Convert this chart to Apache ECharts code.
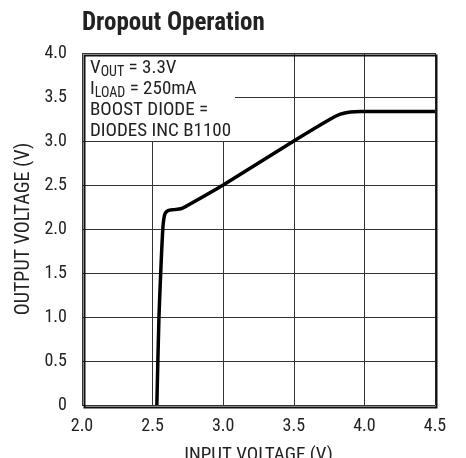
<!DOCTYPE html>
<html><head><meta charset="utf-8">
<script src="https://cdn.jsdelivr.net/npm/echarts@6/dist/echarts.min.js"></script>
<style>html,body{margin:0;padding:0;background:#fff}#c{width:466px;height:458px}</style>
</head><body><div id="c"></div>
<script>
const inputVoltage = [2.53, 2.545, 2.56, 2.572, 2.58, 2.59, 2.61, 2.65, 2.7, 2.75, 3.0, 3.5, 3.76, 3.83, 3.9, 3.97, 4.0, 4.5];
const outputVoltage = [0, 1.0, 1.6, 2.0, 2.12, 2.18, 2.21, 2.22, 2.23, 2.27, 2.5, 3.0, 3.25, 3.305, 3.33, 3.335, 3.335, 3.335];
const xTicks = [2.0, 2.5, 3.0, 3.5, 4.0, 4.5];
const yTicks = [0, 0.5, 1.0, 1.5, 2.0, 2.5, 3.0, 3.5, 4.0];
const FONT = '"Liberation Sans Narrow","Roboto Condensed","Liberation Sans",sans-serif';
const chart = echarts.init(document.getElementById('c'), null, {renderer: 'canvas'});
chart.setOption({
  animation: false,
  title: {text: 'Dropout Operation', left: 77, top: 6, textStyle: {fontFamily: FONT, fontWeight: 'bold', fontSize: 25, color: '#222'}},
  grid: {left: 82, right: 31, top: 53, bottom: 53, containLabel: false, outerBoundsMode: 'none'},
  xAxis: {type: 'value', min: 2.0, max: 4.5, interval: 0.5,
    name: 'INPUT VOLTAGE (V)', nameLocation: 'middle', nameGap: 41,
    nameTextStyle: {fontFamily: FONT, fontSize: 19, color: '#222'},
    axisLine: {show: false}, axisTick: {show: false},
    axisLabel: {fontFamily: FONT, fontSize: 18, color: '#222', margin: 12, formatter: v => v.toFixed(1)},
    splitLine: {show: true, lineStyle: {color: '#333', width: 1}}},
  yAxis: {type: 'value', min: 0, max: 4.0, interval: 0.5,
    name: 'OUTPUT VOLTAGE (V)', nameLocation: 'middle', nameGap: 46, nameRotate: 90,
    nameTextStyle: {fontFamily: FONT, fontSize: 20, color: '#222'},
    axisLine: {show: false}, axisTick: {show: false},
    axisLabel: {fontFamily: FONT, fontSize: 18, color: '#222', margin: 15, formatter: v => v === 0 ? '0' : v.toFixed(1)},
    splitLine: {show: true, lineStyle: {color: '#333', width: 1}}},
  graphic: [
    {type: 'rect', left: 83, top: 54, z: 50, shape: {width: 152, height: 87}, style: {fill: '#fff'}},
    {type: 'rect', left: 82, top: 53, z: 60, shape: {width: 352, height: 352}, style: {fill: 'none', stroke: '#111', lineWidth: 2}},
    {type: 'text', left: 90, top: 58, z: 70, style: {
      text: '{n|V}{s|OUT}{n| = 3.3V}\n{n|I}{s|LOAD}{n| = 250mA}\n{n|BOOST DIODE =}\n{n|DIODES INC B1100}',
      rich: {n: {fontFamily: FONT, fontSize: 19, color: '#222', lineHeight: 21},
             s: {fontFamily: FONT, fontSize: 14, color: '#222', lineHeight: 21, verticalAlign: 'bottom', padding: [7,0,0,0]}},
      fill: '#222', font: '19px ' + FONT}}
  ],
  series: [{type: 'line', data: inputVoltage.map((x, i) => [x, outputVoltage[i]]),
    showSymbol: false, smooth: 0.2, lineStyle: {color: '#000', width: 3.5}, z: 40}]
});
</script></body></html>
